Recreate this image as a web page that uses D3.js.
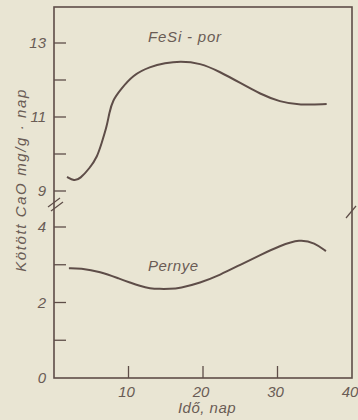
<html>
<head>
<script src="https://d3js.org/d3.v7.min.js"></script>
<style>
  body { margin: 0; background: #e9e5d3; }
  text { font-family: "Liberation Sans", "DejaVu Sans", sans-serif; font-style: italic; fill: #6a5c55; }
</style>
</head>
<body>
<script>
// FeSi-por curve (upper panel)
const fesiDays = [1.75, 2.7, 3.5, 4.8, 5.8, 6.4, 7.1, 7.4, 7.9, 8.9, 10.6, 12.9, 14.9, 16.9, 19.6, 22.3, 25.0, 27.7, 30.3, 33.0, 36.6];
const fesiVals = [9.38, 9.27, 9.33, 9.62, 9.92, 10.3, 10.75, 11.1, 11.46, 11.73, 12.14, 12.36, 12.46, 12.51, 12.46, 12.22, 11.92, 11.62, 11.41, 11.32, 11.35];
// Pernye curve (lower panel)
const pernyeDays = [2.0, 3.5, 6.2, 8.9, 10.2, 11.5, 12.9, 14.2, 15.5, 16.9, 19.6, 22.3, 25, 27.7, 30.3, 33, 35, 36.5];
const pernyeVals = [2.91, 2.91, 2.82, 2.62, 2.53, 2.44, 2.37, 2.36, 2.36, 2.38, 2.52, 2.73, 3.0, 3.26, 3.5, 3.68, 3.58, 3.36];

const upperTicks = [9, 10, 11, 12, 13];
const upperLabels = [9, 11, 13];
const lowerTicks = [1, 2, 3, 4];
const lowerLabels = [0, 2, 4];
const xTicks = [10, 20, 30];
const xLabels = [10, 20, 30, 40];

const ink = "#5e4d48";
const svg = d3.select("body").append("svg").attr("width", 358).attr("height", 420);

const x = d3.scaleLinear().domain([0, 40]).range([54, 352]);
const yUp = d3.scaleLinear().domain([9, 13]).range([191, 43]);
const yLo = d3.scaleLinear().domain([0, 4]).range([378, 227]);

// frame
svg.append("rect").attr("x", 54).attr("y", 7).attr("width", 298).attr("height", 371)
  .attr("fill", "none").attr("stroke", ink).attr("stroke-width", 1.6);

// break marks
[[0, 0], [3, 4]].forEach(o => {
  svg.append("line").attr("x1", 48 + o[0]).attr("y1", 207 + o[1]).attr("x2", 60 + o[0]).attr("y2", 198 + o[1])
    .attr("stroke", ink).attr("stroke-width", 1.2);
});
svg.append("line").attr("x1", 346).attr("y1", 218).attr("x2", 356).attr("y2", 206).attr("stroke", ink).attr("stroke-width", 1.2);

// y ticks
svg.selectAll(".tu").data(upperTicks).enter().append("line")
  .attr("x1", 54).attr("x2", 66).attr("y1", d => yUp(d)).attr("y2", d => yUp(d))
  .attr("stroke", ink).attr("stroke-width", 1.3);
svg.selectAll(".tl").data(lowerTicks).enter().append("line")
  .attr("x1", 54).attr("x2", 66).attr("y1", d => yLo(d)).attr("y2", d => yLo(d))
  .attr("stroke", ink).attr("stroke-width", 1.3);
svg.selectAll(".tx").data(xTicks).enter().append("line")
  .attr("x1", d => x(d)).attr("x2", d => x(d)).attr("y1", 378).attr("y2", 366)
  .attr("stroke", ink).attr("stroke-width", 1.3);

// tick labels
svg.selectAll(".lu").data(upperLabels).enter().append("text")
  .attr("x", 46).attr("y", d => yUp(d) + 5).attr("text-anchor", "end").attr("font-size", 15).text(d => d);
svg.selectAll(".ll").data(lowerLabels).enter().append("text")
  .attr("x", 46).attr("y", d => yLo(d) + 5).attr("text-anchor", "end").attr("font-size", 15).text(d => d);
svg.selectAll(".lx").data(xLabels).enter().append("text")
  .attr("x", d => x(d) - 2).attr("y", 397).attr("text-anchor", "middle").attr("font-size", 15).text(d => d);

// axis titles
svg.append("text").attr("x", 207).attr("y", 413).attr("text-anchor", "middle").attr("font-size", 15).attr("letter-spacing", 0.5).text("Idő, nap");
svg.append("text").attr("transform", "translate(26,180) rotate(-90)").attr("text-anchor", "middle")
  .attr("font-size", 15).attr("letter-spacing", 1.6).text("Kötött  CaO mg/g · nap");

// curves
const lineUp = d3.line().x(d => x(d[0])).y(d => yUp(d[1])).curve(d3.curveBasis);
const lineLo = d3.line().x(d => x(d[0])).y(d => yLo(d[1])).curve(d3.curveBasis);
svg.append("path").attr("d", lineUp(d3.zip(fesiDays, fesiVals)))
  .attr("fill", "none").attr("stroke", ink).attr("stroke-width", 2);
svg.append("path").attr("d", lineLo(d3.zip(pernyeDays, pernyeVals)))
  .attr("fill", "none").attr("stroke", ink).attr("stroke-width", 2);

// curve labels
svg.append("text").attr("x", 148).attr("y", 42).attr("font-size", 15).attr("letter-spacing", 0.8).text("FeSi - por");
svg.append("text").attr("x", 148).attr("y", 271).attr("font-size", 15).attr("letter-spacing", 0.5).text("Pernye");
</script>
</body>
</html>
